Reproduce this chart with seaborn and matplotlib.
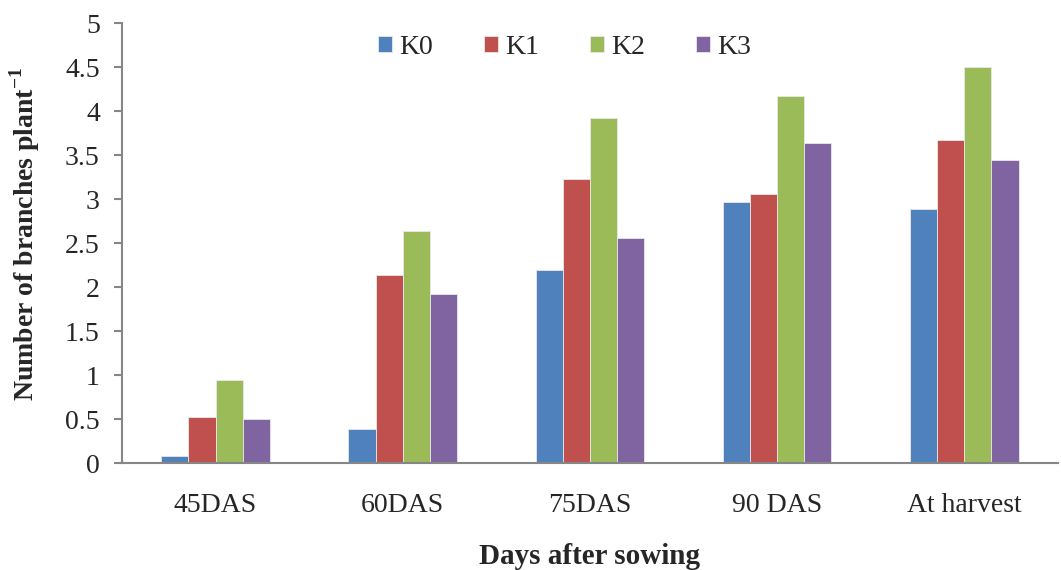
import matplotlib
matplotlib.use("Agg")
import matplotlib.pyplot as plt
import seaborn as sns
import pandas as pd

categories = ["45DAS", "60DAS", "75DAS", "90 DAS", "At harvest"]
series_names = ["K0", "K1", "K2", "K3"]
k0 = [0.08, 0.39, 2.19, 2.97, 2.89]
k1 = [0.52, 2.14, 3.23, 3.06, 3.67]
k2 = [0.94, 2.64, 3.92, 4.17, 4.50]
k3 = [0.50, 1.92, 2.56, 3.64, 3.44]
yticks = [0, 0.5, 1, 1.5, 2, 2.5, 3, 3.5, 4, 4.5, 5]
ytick_labels = ["0", "0.5", "1", "1.5", "2", "2.5", "3", "3.5", "4", "4.5", "5"]
colors = ["#4F81BD", "#C0504D", "#9BBB59", "#8064A2"]

rows = []
for name, vals in zip(series_names, [k0, k1, k2, k3]):
    for c, v in zip(categories, vals):
        rows.append({"cat": c, "series": name, "value": v})
df = pd.DataFrame(rows)

sns.set_style("white")
plt.rcParams["font.family"] = ["Liberation Serif", "DejaVu Serif"]
plt.rcParams["mathtext.fontset"] = "custom"
plt.rcParams["mathtext.rm"] = "Liberation Serif"
plt.rcParams["mathtext.bf"] = "Liberation Serif:bold"

fig = plt.figure(figsize=(10.61, 5.70), dpi=100)
ax = fig.add_axes([0.115, 0.1877, 0.882, 0.7719])

sns.barplot(data=df, x="cat", y="value", hue="series", order=categories,
            hue_order=series_names, palette=colors, width=0.58,
            edgecolor="#e8e8e8", linewidth=0.6, ax=ax, errorbar=None,
            saturation=1)

ax.set_ylim(0, 5)
ax.set_xlim(-0.5, len(categories) - 0.5)
ax.set_yticks(yticks)
ax.set_yticklabels(ytick_labels)
ax.tick_params(axis="y", which="both", left=True, length=6, width=1.5,
               color="#868686", labelsize=20, pad=10)
ax.tick_params(axis="x", bottom=False, labelsize=20, pad=18)

for s in ["top", "right"]:
    ax.spines[s].set_visible(False)
for s in ["left", "bottom"]:
    ax.spines[s].set_color("#868686")
    ax.spines[s].set_linewidth(1.5)

ax.set_xlabel("Days after sowing", fontsize=21, fontweight="bold", labelpad=18)
ax.set_ylabel(r"Number of branches plant$^{\mathbf{-1}}$", fontsize=20,
              fontweight="bold")
ax.yaxis.set_label_coords(-0.086, 0.52)

leg = ax.legend(loc="upper center", bbox_to_anchor=(0.473, 1.03), ncol=4,
                frameon=False, fontsize=20, handlelength=0.5, handleheight=0.5,
                handletextpad=0.25, columnspacing=1.85)

fig.savefig("out.png", dpi=100)
